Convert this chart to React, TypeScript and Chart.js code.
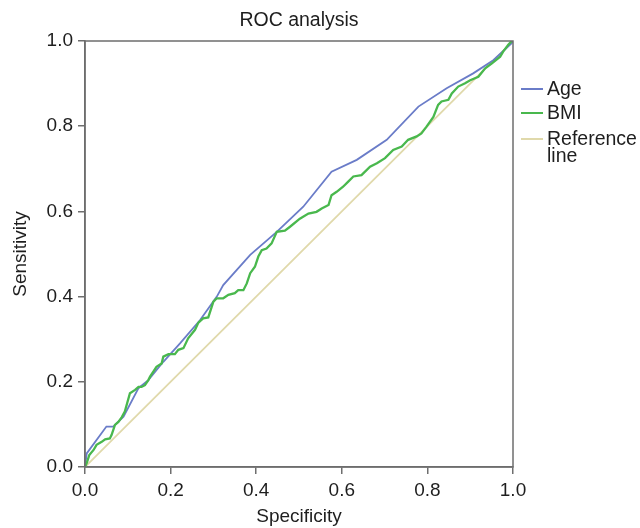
import React, { useEffect, useRef } from "react";
import { Chart, registerables } from "chart.js";

Chart.register(...registerables);

const chartTitle = "ROC analysis";
const xAxisTitle = "Specificity";
const yAxisTitle = "Sensitivity";
const tickValues = [0, 0.2, 0.4, 0.6, 0.8, 1.0];

const ageX = [0, 0.004, 0.05, 0.066, 0.09, 0.125, 0.148, 0.183, 0.222, 0.269, 0.308, 0.323, 0.386, 0.448, 0.51, 0.576, 0.635, 0.705, 0.779, 0.845, 0.907, 0.954, 0.997, 1];
const ageY = [0, 0.032, 0.095, 0.095, 0.118, 0.185, 0.204, 0.247, 0.29, 0.345, 0.4, 0.427, 0.498, 0.552, 0.611, 0.693, 0.721, 0.768, 0.846, 0.889, 0.924, 0.955, 0.995, 1];

const bmiX = [0, 0.004, 0.01, 0.02, 0.027, 0.039, 0.047, 0.058, 0.062, 0.07, 0.078, 0.086, 0.093, 0.105, 0.117, 0.125, 0.132, 0.14, 0.148, 0.152, 0.167, 0.179, 0.183, 0.195, 0.21, 0.218, 0.23, 0.241, 0.257, 0.265, 0.276, 0.288, 0.3, 0.308, 0.323, 0.335, 0.35, 0.358, 0.37, 0.378, 0.386, 0.397, 0.405, 0.413, 0.424, 0.436, 0.448, 0.467, 0.479, 0.502, 0.522, 0.541, 0.553, 0.569, 0.576, 0.588, 0.603, 0.615, 0.627, 0.646, 0.666, 0.682, 0.701, 0.72, 0.74, 0.755, 0.775, 0.786, 0.798, 0.814, 0.825, 0.833, 0.849, 0.857, 0.872, 0.888, 0.9, 0.919, 0.935, 0.95, 0.97, 0.977, 0.989, 0.997, 1];
const bmiY = [0, 0.009, 0.028, 0.04, 0.052, 0.059, 0.065, 0.067, 0.075, 0.099, 0.106, 0.117, 0.13, 0.173, 0.181, 0.188, 0.188, 0.192, 0.204, 0.212, 0.235, 0.243, 0.259, 0.265, 0.265, 0.275, 0.279, 0.302, 0.322, 0.339, 0.349, 0.351, 0.388, 0.396, 0.396, 0.404, 0.408, 0.415, 0.415, 0.431, 0.455, 0.47, 0.494, 0.509, 0.513, 0.525, 0.552, 0.555, 0.564, 0.583, 0.595, 0.599, 0.607, 0.615, 0.638, 0.646, 0.658, 0.67, 0.682, 0.685, 0.705, 0.713, 0.725, 0.744, 0.752, 0.768, 0.776, 0.783, 0.799, 0.822, 0.85, 0.858, 0.862, 0.877, 0.893, 0.901, 0.908, 0.916, 0.936, 0.947, 0.963, 0.975, 0.991, 1.0, 1];

const refX = [0, 1];
const refY = [0, 1];

const seriesNames = ["Age", "BMI", "Reference line"];
const seriesColors = ["#6a7cc8", "#49b84d", "#e0d9ab"];

const FONT = "'Liberation Sans', Arial, Helvetica, sans-serif";
const AXIS_COLOR = "#6e6e6e";
const TEXT_COLOR = "#1e1e1e";

export default function App() {
  const canvasRef = useRef<HTMLCanvasElement | null>(null);

  useEffect(() => {
    if (!canvasRef.current) return;
    const framePlugin = {
      id: "frameBox",
      afterDatasetsDraw(chart: any) {
        const { ctx, chartArea: a } = chart;
        ctx.save();
        ctx.strokeStyle = AXIS_COLOR;
        ctx.lineWidth = 1.5;
        ctx.strokeRect(a.left, a.top, a.right - a.left, a.bottom - a.top);
        ctx.restore();
      },
    };
    const toPts = (xs: number[], ys: number[]) => xs.map((x, i) => ({ x, y: ys[i] }));
    const axisCommon = (titleText: string, titlePad: any) => ({
      type: "linear" as const,
      min: 0,
      max: 1,
      afterBuildTicks: (s: any) => {
        s.ticks = tickValues.map((v) => ({ value: v }));
      },
      ticks: {
        callback: (v: any) => Number(v).toFixed(1),
        font: { size: 19, family: FONT },
        color: TEXT_COLOR,
        maxRotation: 0,
        autoSkip: false,
        padding: 5,
      },
      grid: {
        display: true,
        drawOnChartArea: false,
        drawTicks: true,
        tickLength: 7,
        color: AXIS_COLOR,
        lineWidth: 1.5,
      },
      border: { display: true, color: AXIS_COLOR, width: 1.5 },
      title: {
        display: true,
        text: titleText,
        font: { size: 19, family: FONT },
        color: TEXT_COLOR,
        padding: titlePad,
      },
    });

    const chart = new Chart(canvasRef.current, {
      type: "scatter",
      data: {
        datasets: [
          {
            label: seriesNames[1],
            data: toPts(bmiX, bmiY),
            showLine: true,
            borderColor: seriesColors[1],
            backgroundColor: seriesColors[1],
            borderWidth: 2.3,
            pointRadius: 0,
            tension: 0,
            order: 1,
          },
          {
            label: seriesNames[0],
            data: toPts(ageX, ageY),
            showLine: true,
            borderColor: seriesColors[0],
            backgroundColor: seriesColors[0],
            borderWidth: 1.8,
            pointRadius: 0,
            tension: 0,
            order: 2,
          },
          {
            label: seriesNames[2],
            data: toPts(refX, refY),
            showLine: true,
            borderColor: seriesColors[2],
            backgroundColor: seriesColors[2],
            borderWidth: 1.8,
            pointRadius: 0,
            tension: 0,
            order: 3,
          },
        ],
      },
      options: {
        responsive: false,
        animation: false,
        layout: { padding: { top: 41, right: 127, bottom: 0, left: 0 } },
        plugins: {
          legend: { display: false },
          title: { display: false },
          tooltip: { enabled: false },
        },
        scales: {
          x: {
            ...axisCommon(xAxisTitle, { top: 0, bottom: 0 }),
            afterFit: (s: any) => {
              s.height = 61;
            },
          },
          y: {
            ...axisCommon(yAxisTitle, { top: 9, bottom: 0 }),
            afterFit: (s: any) => {
              s.width = 85;
            },
          },
        },
      } as any,
      plugins: [framePlugin],
    });
    return () => chart.destroy();
  }, []);

  const legendRows = [
    { name: seriesNames[0], color: seriesColors[0], top: 78 },
    { name: seriesNames[1], color: seriesColors[1], top: 102 },
    { name: "Reference\nline", color: seriesColors[2], top: 128 },
  ];

  return (
    <div style={{ position: "absolute", left: 0, top: 0, width: 640, height: 528, background: "#fff", fontFamily: FONT }}>
      <canvas ref={canvasRef} width={640} height={528} style={{ display: "block" }} />
      <div
        style={{
          position: "absolute",
          left: 85,
          width: 428,
          top: 8,
          textAlign: "center",
          fontSize: 19.5,
          lineHeight: "22px",
          color: TEXT_COLOR,
        }}
      >
        {chartTitle}
      </div>
      {legendRows.map((r) => (
        <div key={r.name} style={{ position: "absolute", left: 521, top: r.top, display: "flex", alignItems: "flex-start" }}>
          <div style={{ width: 22, height: 2, background: r.color, marginTop: 10, marginRight: 4 }} />
          <div style={{ fontSize: 19.5, lineHeight: "17px", paddingTop: 2, color: TEXT_COLOR, whiteSpace: "pre" }}>{r.name}</div>
        </div>
      ))}
    </div>
  );
}
